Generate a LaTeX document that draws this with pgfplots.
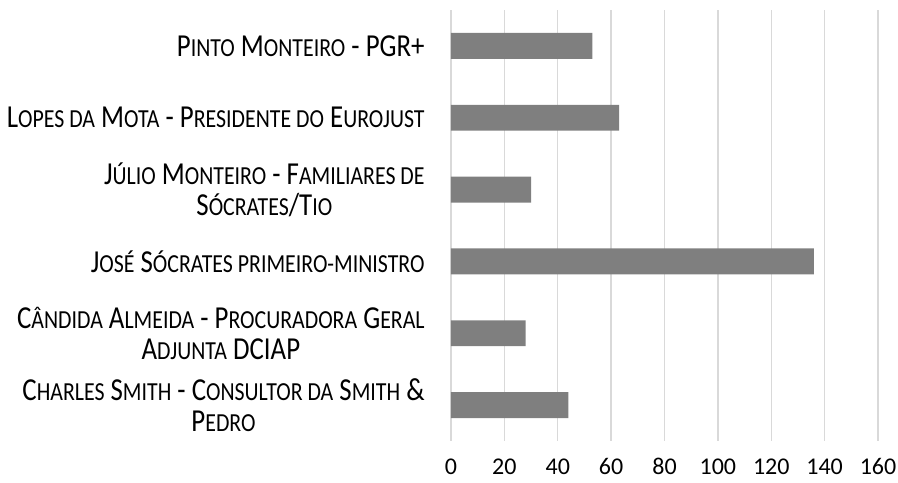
\documentclass[border=0pt]{standalone}
\usepackage{pgfplots}
\pgfplotsset{compat=1.18}
\usepackage{fontspec}
\setmainfont{Carlito}
\newfontfamily\labfont[FakeStretch=0.84]{Carlito}
\definecolor{barc}{HTML}{7F7F7F}
\definecolor{gridc}{HTML}{D9D9D9}
% Carlito has no small caps, so fake them
\newcommand\s[1]{{\fontsize{13}{15.5}\selectfont\uppercase{#1}}}
\begin{document}
\begin{tikzpicture}
\begin{axis}[
  xbar, scale only axis,
  width=213.5pt, height=215.5pt,
  xmin=0, xmax=160, ymin=-0.5, ymax=5.5, y dir=reverse,
  xtick={0,20,...,160}, ytick={0,...,5},
  yticklabels={P\s{into} M\s{onteiro} - PGR+,
    L\s{opes da} M\s{ota} - P\s{residente do} E\s{urojust},
    {J\s{úlio} M\s{onteiro} - F\s{amiliares de}\\S\s{ócrates}/T\s{io}},
    J\s{osé} S\s{ócrates primeiro-ministro},
    {C\s{ândida} A\s{lmeida} - P\s{rocuradora} G\s{eral}\\A\s{djunta} DCIAP},
    {C\s{harles} S\s{mith} - C\s{onsultor da} S\s{mith} \&\\P\s{edro}}},
  axis line style={draw=none}, major tick length=0pt,
  xmajorgrids, grid style={gridc, line width=0.75pt},
  bar width=0.36,
  tick label style={font=\fontsize{12}{15.5}\selectfont, inner sep=0pt},
  yticklabel style={align=center, xshift=-13pt, font=\labfont\fontsize{16}{15.5}\selectfont},
  xticklabel style={anchor=base, yshift=-16.5pt},
  /pgf/number format/assume math mode=true,
]
\addplot[fill=barc, draw=none] coordinates {(53,0) (63,1) (30,2) (136,3) (28,4) (44,5)};
\end{axis}
\path ([shift={(-225.5pt,5pt)}]current axis.north west) rectangle ([shift={(10pt,-20.5pt)}]current axis.south east);
\end{tikzpicture}
\end{document}
